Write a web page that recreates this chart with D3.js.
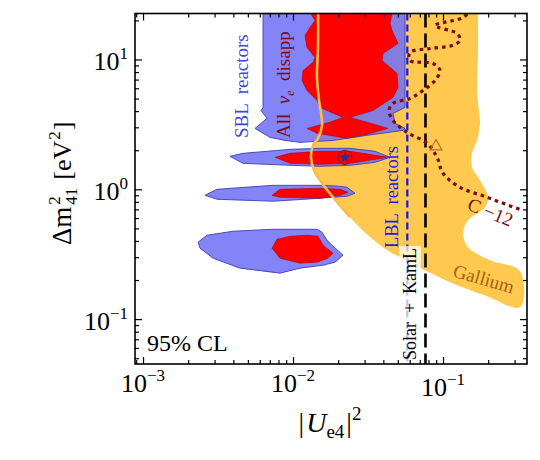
<!DOCTYPE html>
<html><head><meta charset="utf-8">
<script src="https://cdn.jsdelivr.net/npm/d3@7"></script>
<style>
body{margin:0;background:#fff;}
svg{display:block;font-family:"Liberation Serif","Times New Roman",serif;}
</style></head><body>
<svg id="chart" width="540" height="460"></svg>
<script>
// ---------------- data ----------------
const xDomain = [0.000884, 0.363];
const yDomain = [0.0451, 22.6];
const xTickValues = [0.001, 0.01, 0.1];
const xTickExponents = ["−3", "−2", "−1"];
const yTickValues = [0.1, 1, 10];
const yTickExponents = ["−1", "0", "1"];

// Gallium 95% CL region (left boundary top->bottom, then right boundary bottom->top)
const galliumLeft = [[0.01468,25],[0.01468,12.81],[0.01445,7.27],[0.01491,4.84],[0.01561,3.11],[0.01468,2.47],[0.01359,2.18],[0.01318,1.763],[0.0138,1.40],[0.01561,1.112],[0.01848,0.868],[0.02399,0.609],[0.03162,0.443],[0.04233,0.340],[0.05168,0.300],[0.07822,0.234],[0.1113,0.1926],[0.1965,0.1503],[0.3262,0.1237]];
const galliumRight = [[0.3262,0.234],[0.2058,0.284],[0.1468,0.358],[0.1359,0.459],[0.1468,0.577],[0.1905,0.727],[0.1995,0.868],[0.1765,1.173],[0.1561,1.476],[0.1561,1.892],[0.1685,2.38],[0.1765,3.22],[0.1711,4.59],[0.1685,6.09],[0.1711,11.12],[0.1711,25]];

// SBL reactors 95% CL regions
const sblMain = [[0.00631,25],[0.00631,4.27],[0.006118,4.05],[0.00671,3.52],[0.00558,2.945],[0.007026,2.512],[0.008845,2.38],[0.01113,2.299],[0.01848,2.38],[0.03113,2.603],[0.0541,2.843],[0.0558,2.945],[0.04786,3.22],[0.04642,3.84],[0.0558,4.27],[0.0558,25]];
const sblIsland1 = [[0.0038,1.794],[0.004642,1.892],[0.00955,2.031],[0.01514,2.068],[0.02399,2.068],[0.03522,1.96],[0.04433,1.763],[0.03522,1.613],[0.02399,1.530],[0.01514,1.503],[0.00955,1.530],[0.004642,1.585]];
const sblIsland2 = [[0.00259,0.899],[0.003113,1.0],[0.007356,1.073],[0.01514,1.073],[0.02058,1.055],[0.02291,1.036],[0.0259,0.932],[0.02291,0.884],[0.01514,0.853],[0.007356,0.809],[0.003113,0.838]];
const sblIsland3 = [[0.002326,0.391],[0.002671,0.443],[0.003981,0.475],[0.007356,0.492],[0.01113,0.492],[0.01445,0.492],[0.01561,0.467],[0.01685,0.405],[0.0182,0.371],[0.02154,0.311],[0.01905,0.2745],[0.01585,0.260],[0.01113,0.247],[0.00819,0.226],[0.004433,0.247],[0.00293,0.2945],[0.002399,0.352]];

// All nu_e disappearance 95% CL regions
const allMain = [[0.0124,25],[0.01402,19.95],[0.01298,17.63],[0.01202,15.3],[0.0124,12.37],[0.01402,10.36],[0.01359,9.48],[0.01166,8.23],[0.01148,6.89],[0.0124,5.77],[0.01445,4.84],[0.01514,4.27],[0.02154,3.58],[0.01765,3.28],[0.0124,2.945],[0.01445,2.70],[0.02291,2.47],[0.03113,2.65],[0.0430,2.945],[0.03113,3.28],[0.02399,3.58],[0.03415,4.05],[0.04642,5.10],[0.0501,6.09],[0.04935,7.80],[0.0392,9.82],[0.0398,11.12],[0.0501,13.28],[0.04571,16.71],[0.04433,18.92],[0.04642,25]];
const allIsland1 = [[0.007586,1.763],[0.00955,1.892],[0.01514,1.96],[0.02399,1.96],[0.0430,1.763],[0.02399,1.585],[0.01514,1.557],[0.00955,1.585]];
const allIsland2 = [[0.007244,0.899],[0.00819,1.0],[0.01514,1.018],[0.02058,1.0],[0.02326,0.948],[0.02058,0.899],[0.01514,0.853],[0.00819,0.868]];
const allIsland3 = [[0.007244,0.352],[0.007822,0.412],[0.00955,0.435],[0.0124,0.443],[0.01468,0.435],[0.01585,0.371],[0.01848,0.322],[0.01711,0.2945],[0.01445,0.2745],[0.01113,0.2697],[0.00819,0.2945]];

// Bounds
const lblReactorsX = 0.0578;
const solarKamLX = 0.0764;
const carbon12 = [[0.1561,24.7],[0.1359,21.04],[0.08845,18.26],[0.124,15.85],[0.1298,14.0],[0.1148,12.81],[0.0819,12.15],[0.06026,11.32],[0.06026,9.82],[0.08577,9.315],[0.0955,8.23],[0.08845,6.89],[0.07356,5.77],[0.06026,5.01],[0.04642,4.59],[0.04365,4.05],[0.04642,3.395],[0.05754,2.745],[0.07822,2.259],[0.0912,1.763],[0.1,1.328],[0.1298,1.036],[0.1965,0.868],[0.3362,0.689]];

// Best fit points
const bestFitAll = [0.0222, 1.76];
const bestFitGallium = [0.0898, 2.14];

// ---------------- drawing ----------------
const L = 135, R = 527, T = 13.5, B = 364;
const x = d3.scaleLog().domain(xDomain).range([L, R]);
const y = d3.scaleLog().domain(yDomain).range([B, T]);
const svg = d3.select("#chart");

svg.append("defs").append("clipPath").attr("id","clip")
  .append("rect").attr("x",L).attr("y",T).attr("width",R-L).attr("height",B-T);
const plot = svg.append("g").attr("clip-path","url(#clip)");

const lin = d3.line().x(d=>x(d[0])).y(d=>y(d[1]));
const smooth = d3.line().x(d=>x(d[0])).y(d=>y(d[1])).curve(d3.curveCatmullRom.alpha(0.5));

// Gallium fill
plot.append("path").attr("d", smooth(galliumLeft.concat(galliumRight)) + "Z")
  .attr("fill","#ffc84e");

// SBL blue
[sblMain, sblIsland1, sblIsland2, sblIsland3].forEach(p => {
  plot.append("path").attr("d", lin(p) + "Z")
    .attr("fill","#6e6ef8").attr("fill-opacity",0.85)
    .attr("stroke","#3c3cb4").attr("stroke-width",0.9);
});
// All nu_e red
[allMain, allIsland1, allIsland2, allIsland3].forEach(p => {
  plot.append("path").attr("d", lin(p) + "Z")
    .attr("fill","#ff0000").attr("stroke","#b00000").attr("stroke-width",0.6);
});

// Gallium boundary line on top
plot.append("path").attr("d", smooth(galliumLeft.slice(0,12)))
  .attr("fill","none").attr("stroke","#fbbd45").attr("stroke-width",2.6);

// LBL dashed
plot.append("line").attr("x1",x(lblReactorsX)).attr("x2",x(lblReactorsX))
  .attr("y1",T).attr("y2",B).attr("stroke","#1414f0").attr("stroke-width",2.2)
  .attr("stroke-dasharray","7,4");

// Solar + KamL label with translucent box
const solG = svg.append("g").attr("transform","translate(416,304) rotate(-90)");
const solT = solG.append("text").attr("x",0).attr("y",0).attr("text-anchor","middle")
  .attr("font-size",18).attr("fill","#000").style("white-space","pre").text("Solar  +  KamL");
const sb = solT.node().getBBox();
solG.insert("rect","text").attr("x",sb.x-2).attr("y",sb.y-1).attr("width",sb.width+4).attr("height",sb.height+2)
  .attr("fill","#ffffff").attr("fill-opacity",0.72);

// Solar+KamL black dashed
plot.append("line").attr("x1",x(solarKamLX)).attr("x2",x(solarKamLX))
  .attr("y1",T).attr("y2",B).attr("stroke","#000").attr("stroke-width",2.6)
  .attr("stroke-dasharray","14,6");

// C-12 dotted
plot.append("path").attr("d", smooth(carbon12)).attr("fill","none")
  .attr("stroke","#7a0c10").attr("stroke-width",3.2).attr("stroke-dasharray","3.5,4");

// markers
plot.append("circle").attr("cx",x(bestFitAll[0])).attr("cy",y(bestFitAll[1])).attr("r",7)
  .attr("fill","none").attr("stroke","#8a1010").attr("stroke-width",1);
plot.append("path").attr("d", d3.symbol(d3.symbolStar, 42)())
  .attr("transform",`translate(${x(bestFitAll[0])},${y(bestFitAll[1])})`).attr("fill","#2c2f8c");
plot.append("path").attr("d", d3.symbol(d3.symbolTriangle, 60)())
  .attr("transform",`translate(${x(bestFitGallium[0])},${y(bestFitGallium[1])})`)
  .attr("fill","none").attr("stroke","#b0701e").attr("stroke-width",1.2);

// ---------------- axes ----------------
function minorTicks(dom){ const out=[]; for(let e=-4;e<=2;e++) for(let k=2;k<=9;k++){ const v=k*Math.pow(10,e); if(v>dom[0]&&v<dom[1]) out.push(v);} return out; }
const axes = svg.append("g");
function addAxis(axisFn, scale, transform, dom, majors){
  const g1 = axes.append("g").attr("transform",transform)
    .call(axisFn(scale).tickValues(majors).tickSize(-7).tickSizeOuter(0).tickFormat(""));
  const g2 = axes.append("g").attr("transform",transform)
    .call(axisFn(scale).tickValues(minorTicks(dom)).tickSize(-4).tickSizeOuter(0).tickFormat(""));
  [g1,g2].forEach(g=>{ g.select(".domain").remove(); g.selectAll("line").attr("stroke","#000").attr("stroke-width",1.2); });
}
addAxis(d3.axisBottom, x, `translate(0,${B})`, xDomain, xTickValues);
addAxis(d3.axisTop, x, `translate(0,${T})`, xDomain, xTickValues);
addAxis(d3.axisLeft, y, `translate(${L},0)`, yDomain, yTickValues);
addAxis(d3.axisRight, y, `translate(${R},0)`, yDomain, yTickValues);

svg.append("rect").attr("x",L).attr("y",T).attr("width",R-L).attr("height",B-T)
  .attr("fill","none").attr("stroke","#000").attr("stroke-width",1.6);

// tick labels
xTickValues.forEach((v,i)=>{
  const t = svg.append("text").attr("x",x(v)).attr("y", 392 + (i===2?4:0))
    .attr("text-anchor","middle").attr("font-size",26);
  t.append("tspan").text("10");
  t.append("tspan").attr("dy",-11).attr("font-size",17).text(xTickExponents[i]);
});
yTickValues.forEach((v,i)=>{
  const t = svg.append("text").attr("x",128).attr("y", y(v)+11)
    .attr("text-anchor","end").attr("font-size",26);
  t.append("tspan").text("10");
  t.append("tspan").attr("dy",-11).attr("font-size",17).text(yTickExponents[i]);
});

// axis titles
const xl = svg.append("text").attr("x",330).attr("y",432).attr("text-anchor","middle").attr("font-size",28);
xl.append("tspan").text("|");
xl.append("tspan").attr("font-style","italic").attr("dx",2).text("U");
xl.append("tspan").attr("font-size",19).attr("dy",6).text("e4");
xl.append("tspan").attr("dy",-6).attr("dx",2).text("|");
xl.append("tspan").attr("font-size",19).attr("dy",-12).text("2");

const yl = svg.append("g").attr("transform","translate(71,185) rotate(-90)");
let u = -60;
const t1 = yl.append("text").attr("x",u).attr("y",0).attr("font-size",27).text("Δm");
u += t1.node().getComputedTextLength() + 2;
yl.append("text").attr("x",u).attr("y",-11).attr("font-size",17).text("2");
const t3 = yl.append("text").attr("x",u).attr("y",6).attr("font-size",17).text("41");
u += t3.node().getComputedTextLength() + 8;
const t4 = yl.append("text").attr("x",u).attr("y",0).attr("font-size",26).text("[eV");
u += t4.node().getComputedTextLength() + 1;
const t5 = yl.append("text").attr("x",u).attr("y",-11).attr("font-size",17).text("2");
u += t5.node().getComputedTextLength() + 1;
yl.append("text").attr("x",u).attr("y",0).attr("font-size",26).text("]");

// annotations
svg.append("text").attr("x",147).attr("y",351).attr("font-size",24).text("95% CL");

svg.append("text").attr("transform","translate(248,138) rotate(-90)")
  .attr("font-size",19).attr("fill","#4646d6").style("white-space","pre").text("SBL  reactors");

const an = svg.append("text").attr("transform","translate(290,138) rotate(-90)")
  .attr("font-size",19).attr("fill","#7a0a1a").style("white-space","pre");
an.append("tspan").text("All  ");
an.append("tspan").attr("font-style","italic").text("ν");
an.append("tspan").attr("font-size",12).attr("font-style","italic").attr("dy",4).text("e");
an.append("tspan").attr("dy",-4).text("  disapp");

svg.append("text").attr("transform","translate(398,197) rotate(-90)").attr("text-anchor","middle")
  .attr("font-size",18.5).attr("fill","#1a1ae6").style("white-space","pre").text("LBL  reactors");

svg.append("text").attr("transform","translate(482,285) rotate(16)").attr("text-anchor","middle")
  .attr("font-size",19).attr("fill","#a4600e").text("Gallium");

svg.append("text").attr("transform","translate(488,218) rotate(22)").attr("text-anchor","middle")
  .attr("font-size",19).attr("fill","#7a0c10").style("white-space","pre").text("C −12");
</script>
</body></html>
